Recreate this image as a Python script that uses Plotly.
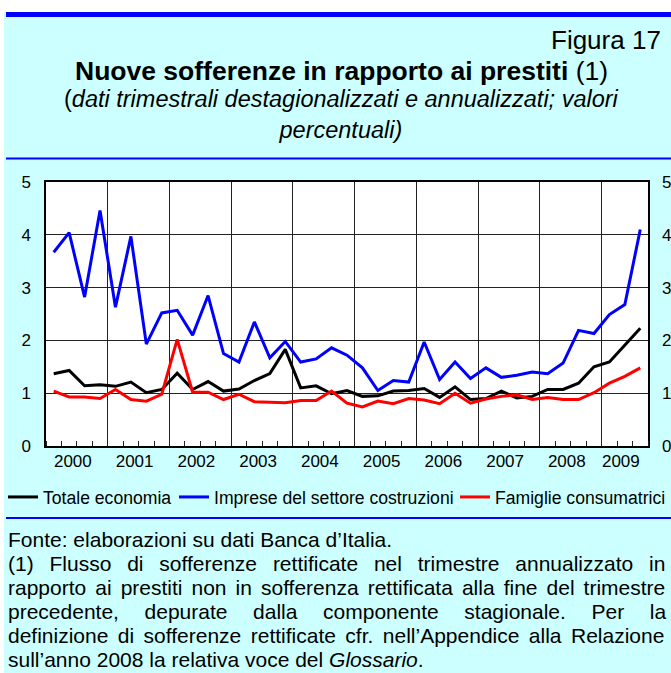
import pandas as pd
import plotly.graph_objects as go

# trimestri 2000Q1 - 2009Q3
trimestri = pd.period_range("2000Q1", "2009Q3", freq="Q")
anni = list(range(2000, 2010))

totale_economia = [1.37, 1.43, 1.14, 1.16, 1.13, 1.21, 1.01, 1.07, 1.38, 1.07,
                   1.22, 1.04, 1.08, 1.24, 1.37, 1.83, 1.10, 1.14, 0.99, 1.05,
                   0.94, 0.95, 1.04, 1.05, 1.09, 0.92, 1.12, 0.88, 0.90, 1.04,
                   0.91, 0.94, 1.07, 1.07, 1.19, 1.50, 1.59, 1.91, 2.23]
imprese_costruzioni = [3.67, 4.04, 2.82, 4.46, 2.63, 3.97, 1.93, 2.52, 2.57, 2.10,
                       2.85, 1.75, 1.59, 2.35, 1.67, 1.98, 1.59, 1.65, 1.86, 1.72,
                       1.48, 1.05, 1.24, 1.21, 1.97, 1.26, 1.59, 1.28, 1.48, 1.30,
                       1.34, 1.40, 1.37, 1.57, 2.19, 2.13, 2.49, 2.68, 4.10]
famiglie_consumatrici = [1.04, 0.93, 0.93, 0.90, 1.07, 0.88, 0.85, 0.98, 2.02, 1.02,
                         1.02, 0.88, 0.98, 0.84, 0.83, 0.82, 0.86, 0.86, 1.04, 0.81,
                         0.74, 0.85, 0.80, 0.90, 0.87, 0.80, 1.00, 0.81, 0.89, 0.94,
                         0.97, 0.88, 0.92, 0.88, 0.88, 1.01, 1.19, 1.32, 1.48]

serie = [("Totale economia", totale_economia, "black"),
         ("Imprese del settore costruzioni", imprese_costruzioni, "#0000FF"),
         ("Famiglie consumatrici", famiglie_consumatrici, "#FF0000")]

# testo della nota: (riga, spaziatura parole in px per la giustificazione)
nota = [("Fonte: elaborazioni su dati Banca d’Italia.", 0),
        ("(1) Flusso di sofferenze rettificate nel trimestre annualizzato in", 10.0),
        ("rapporto ai prestiti non in sofferenza rettificata alla fine del trimestre", 3.2),
        ("precedente, depurate dalla componente stagionale. Per la", 19.8),
        ("definizione di sofferenze rettificate cfr. nell’Appendice alla Relazione", 3.6),
        ("sull’anno 2008 la relativa voce del <i>Glossario</i>.", 0)]

FONT = "Arial, 'Liberation Sans', sans-serif"
CIANO = "#CCFFFF"
BLU = "#0000FF"
W, H = 671, 673
L, R, T, B = 46, 23, 182, 227


# posizioni in pixel -> coordinate paper
def px(x):
    return (x - L) / (W - L - R)


def py(y):
    return (H - B - y) / (H - T - B)


x = trimestri.year + (trimestri.quarter - 0.5) / 4
fine = trimestri[-1].year + trimestri[-1].quarter / 4
pos_anni = [(a + min(a + 1, fine)) / 2 for a in anni]

fig = go.Figure()
legende = ["legend", "legend2", "legend3"]
for (nome, valori, colore), leg in zip(serie, legende):
    fig.add_trace(go.Scatter(x=x, y=valori, name=nome, mode="lines", legend=leg,
                             line=dict(color=colore, width=3)))
# asse secondario solo per etichette anni e scala a destra
fig.add_trace(go.Scatter(x=[None], y=[None], xaxis="x2", yaxis="y2",
                         showlegend=False, hoverinfo="skip"))

# una legenda per voce, allineata al testo originale
for leg, inizio in zip(legende, [3, 174, 455]):
    fig.update_layout({leg: dict(orientation="h", x=px(inizio), xanchor="left",
                                 y=py(497), yanchor="middle", bgcolor="rgba(0,0,0,0)",
                                 font=dict(size=17.6), itemwidth=30)})

fig.update_layout(
    width=W, height=H,
    margin=dict(l=L, r=R, t=T, b=B, autoexpand=False),
    paper_bgcolor=CIANO, plot_bgcolor="white",
    font=dict(family=FONT, size=17, color="black"),
    showlegend=True,
    xaxis=dict(range=[2000, fine], tickmode="array", tickvals=anni[1:],
               showticklabels=False, ticks="", showgrid=True, gridcolor="#222",
               gridwidth=1, zeroline=False, showline=True, mirror=True,
               linecolor="black", linewidth=1.5,
               minor=dict(tick0=2000, dtick=0.25, ticks="inside", ticklen=5,
                          tickcolor="#222", tickwidth=1, showgrid=False)),
    xaxis2=dict(range=[2000, fine], overlaying="x", anchor="y", side="bottom",
                tickmode="array", tickvals=pos_anni, ticktext=[str(a) for a in anni],
                showgrid=False, zeroline=False, ticks="", ticklabelshift=-4,
                ticklabelstandoff=3, tickfont=dict(size=17)),
    yaxis=dict(range=[0, 5], dtick=1, showgrid=True, gridcolor="#222", gridwidth=1,
               zeroline=False, showline=True, mirror=True, linecolor="black",
               linewidth=1.5, ticks="", ticklabelstandoff=10, tickfont=dict(size=17)),
    yaxis2=dict(range=[0, 5], dtick=1, overlaying="y", anchor="x", side="right",
                showgrid=False, zeroline=False, ticks="", ticklabelstandoff=13,
                tickfont=dict(size=17)),
)

# cornice: margini bianchi e barre blu
forme = [(0, 0, W, 12, "white"), (0, 0, 4, H, "white"), (6, 12, W, 17, BLU),
         (6, 157.5, W, 159.5, BLU), (6, 517, W, 519, BLU)]
for x0, y0, x1, y1, colore in forme:
    fig.add_shape(type="rect", xref="paper", yref="paper", layer="below",
                  x0=px(x0), x1=px(x1), y0=py(y0), y1=py(y1),
                  fillcolor=colore, line_width=0)

fig.add_annotation(text="Figura 17", x=px(663), y=py(40), xanchor="right",
                   yanchor="middle", font=dict(size=26))
fig.add_annotation(text="<b>Nuove sofferenze in rapporto ai prestiti</b> (1)",
                   x=px(341), y=py(71), xanchor="center", yanchor="middle",
                   font=dict(size=26.5))
fig.add_annotation(text="(<i>dati trimestrali destagionalizzati e annualizzati; valori</i>"
                        "<br><i>percentuali)</i>",
                   x=px(341), y=py(114), xanchor="center", yanchor="middle",
                   font=dict(size=23.5))

for i, (riga, spazio) in enumerate(nota):
    testo = f'<span style="word-spacing:{spazio}px">{riga}</span>' if spazio else riga
    fig.add_annotation(text=testo, x=px(6), y=py(539 + 24 * i), xanchor="left",
                       yanchor="middle", font=dict(size=21), align="left")

fig.update_annotations(xref="paper", yref="paper", showarrow=False)

# niente margine del body: la figura occupa esattamente la finestra
fig.write_html("out.html", config={"displayModeBar": False},
               post_script="document.body.style.margin = '0';")
